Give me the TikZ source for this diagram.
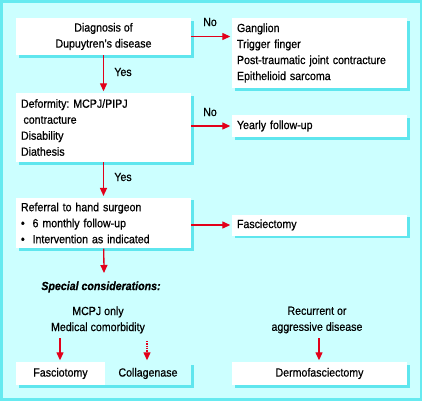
\documentclass[tikz,border=0pt]{standalone}
\usepackage{fontspec}
\setmainfont{Liberation Sans}[FakeStretch=0.9, FakeBold=0.6]
\usetikzlibrary{arrows.meta,shadows}

\definecolor{panelbg}{HTML}{CCFFFF}
\definecolor{panelrim}{HTML}{66EAF0}
\definecolor{boxshade}{HTML}{5FE6EE}
\definecolor{flowred}{HTML}{E2001A}

\tikzset{
  box/.style={fill=white, inner sep=5pt, minimum height=#1,
    drop shadow={fill=boxshade, opacity=1, shadow xshift=2.5pt, shadow yshift=-2.5pt}},
  box/.default=22pt,
  leftbox/.style={box=#1, text width=165pt, align=left},
  midbox/.style={box=#1, align=center},
  arr/.style={-{Triangle[width=7pt,length=8pt]}, flowred, line width=1.3pt, shorten >=1.5pt},
  lbl/.style={inner sep=0pt}
}

\begin{document}
\frenchspacing
\begin{tikzpicture}[x=1pt,y=-1pt, font=\fontsize{11.8}{16}\selectfont]

	\useasboundingbox (0,0) rectangle (424,402);
	\draw[panelrim, fill=panelbg, line width=2.5pt] (1.5,1.5) rectangle (421,399.5);

   % left column
   \node[midbox=37pt, minimum width=175pt] (diag) at (103.5,36.5) {Diagnosis of\\Dupuytren's disease};
   \node[leftbox=69pt] (deform) at (103.5,127.5) {Deformity: MCPJ/PIPJ\\\hspace{2.5pt}contracture\\Disability\\Diathesis};
   \node[leftbox=50pt] (refer) at (103.5,223) {Referral to hand surgeon\\\textbullet\ \ 6 monthly follow-up\\\textbullet\ \ Intervention as indicated};

   % right column
   \node[leftbox=70pt] (diff) at (319.5,53) {Ganglion\\Trigger finger\\Post-traumatic joint contracture\\Epithelioid sarcoma};
   \node[leftbox=22pt] (yearly) at (319.5,126) {Yearly follow-up};
   \node[leftbox=21pt] (fasciect) at (319.5,225) {Fasciectomy};

   % special considerations
   \node[lbl] (spec) at (101,287) {\bfseries\itshape Special considerations:};
   \node[lbl, align=center] (mcpj) at (98,320) {MCPJ only\\Medical comorbidity};
   \node[lbl, align=center] (recur) at (317,320) {Recurrent or\\aggressive disease};

   \node[midbox=23pt, minimum width=89pt] (fasciot) at (60.5,373.5) {Fasciotomy};
   \node[midbox=23pt, minimum width=86pt, fill=panelbg] (collag) at (148,373.5) {Collagenase};
   \node[midbox=23pt, minimum width=175pt] (dermo) at (319.5,373.5) {Dermofasciectomy};

   \node[lbl] (no1) at (210,22) {No};
   \node[lbl] (no2) at (210,112) {No};
   \node[lbl] (yes1) at (123,72) {Yes};
   \node[lbl] (yes2) at (123,177) {Yes};

   \coordinate (specTop) at (104,273);
   \coordinate (fzStart) at (60,338);
   \coordinate (clStart) at (147,341);
   \coordinate (dmStart) at (319,338);

   % connectors
   \draw[arr] (diag) -- (deform);
   \draw[arr] (deform) -- (refer);
   \draw[arr, shorten >=0pt] (refer) -- (specTop);
   \draw[arr] (diag.east) -- (diag.east -| diff.west);
   \draw[arr] (yearly.west -| deform.east) -- (yearly.west);
   \draw[arr] (fasciect.west -| refer.east) -- (fasciect.west);
   \draw[arr] (fzStart) -- (fzStart |- fasciot.north);
   \draw[arr, densely dotted] (clStart) -- (clStart |- collag.north);
   \draw[arr] (dmStart) -- (dmStart |- dermo.north);
\end{tikzpicture}
\end{document}
